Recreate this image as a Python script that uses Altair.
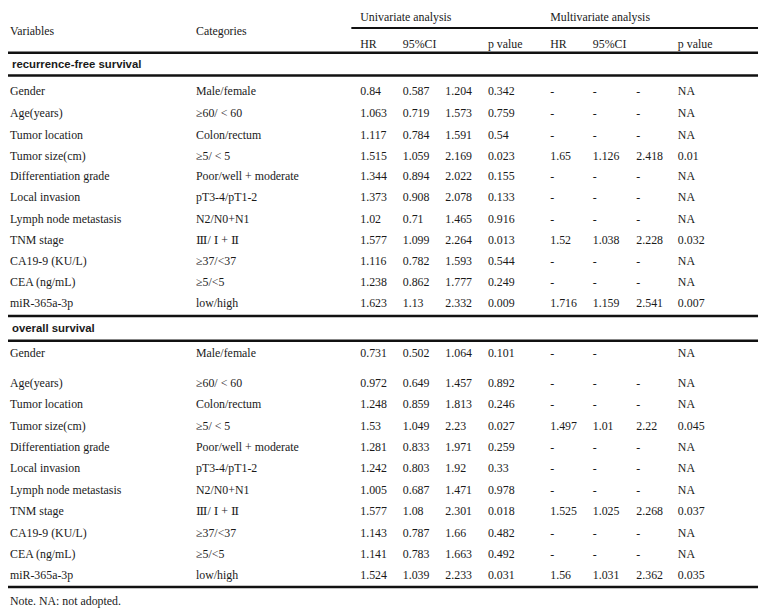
import altair as alt
import pandas as pd

# ---------------- data ----------------
variables = ["Gender", "Age(years)", "Tumor location", "Tumor size(cm)",
             "Differentiation grade", "Local invasion", "Lymph node metastasis",
             "TNM stage", "CA19-9 (KU/L)", "CEA (ng/mL)", "miR-365a-3p"]
categories = ["Male/female", "≥60/ < 60", "Colon/rectum", "≥5/ < 5",
              "Poor/well + moderate", "pT3-4/pT1-2", "N2/N0+N1",
              "Ⅲ/ Ⅰ + Ⅱ", "≥37/<37", "≥5/<5", "low/high"]

header_group = ["Univariate analysis", "Multivariate analysis"]
header_sub = ["HR", "95%CI", "p value", "HR", "95%CI", "p value"]
header_left = ["Variables", "Categories"]
section_titles = ["recurrence-free survival", "overall survival"]
note_text = "Note. NA: not adopted."

# recurrence-free survival
rfs_uni_hr = ["0.84", "1.063", "1.117", "1.515", "1.344", "1.373", "1.02", "1.577", "1.116", "1.238", "1.623"]
rfs_uni_lo = ["0.587", "0.719", "0.784", "1.059", "0.894", "0.908", "0.71", "1.099", "0.782", "0.862", "1.13"]
rfs_uni_hi = ["1.204", "1.573", "1.591", "2.169", "2.022", "2.078", "1.465", "2.264", "1.593", "1.777", "2.332"]
rfs_uni_p = ["0.342", "0.759", "0.54", "0.023", "0.155", "0.133", "0.916", "0.013", "0.544", "0.249", "0.009"]
rfs_mul_hr = ["-", "-", "-", "1.65", "-", "-", "-", "1.52", "-", "-", "1.716"]
rfs_mul_lo = ["-", "-", "-", "1.126", "-", "-", "-", "1.038", "-", "-", "1.159"]
rfs_mul_hi = ["-", "-", "-", "2.418", "-", "-", "-", "2.228", "-", "-", "2.541"]
rfs_mul_p = ["NA", "NA", "NA", "0.01", "NA", "NA", "NA", "0.032", "NA", "NA", "0.007"]

# overall survival
os_uni_hr = ["0.731", "0.972", "1.248", "1.53", "1.281", "1.242", "1.005", "1.577", "1.143", "1.141", "1.524"]
os_uni_lo = ["0.502", "0.649", "0.859", "1.049", "0.833", "0.803", "0.687", "1.08", "0.787", "0.783", "1.039"]
os_uni_hi = ["1.064", "1.457", "1.813", "2.23", "1.971", "1.92", "1.471", "2.301", "1.66", "1.663", "2.233"]
os_uni_p = ["0.101", "0.892", "0.246", "0.027", "0.259", "0.33", "0.978", "0.018", "0.482", "0.492", "0.031"]
os_mul_hr = ["-", "-", "-", "1.497", "-", "-", "-", "1.525", "-", "-", "1.56"]
os_mul_lo = ["-", "-", "-", "1.01", "-", "-", "-", "1.025", "-", "-", "1.031"]
os_mul_hi = ["", "-", "-", "2.22", "-", "-", "-", "2.268", "-", "-", "2.362"]
os_mul_p = ["NA", "NA", "NA", "0.045", "NA", "NA", "NA", "0.037", "NA", "NA", "0.035"]

# ---------------- layout (page pixel positions) ----------------
OFF = 8
col_px = [10, 198, 364, 407, 450, 493, 556, 599, 643, 685]
row_px = ([14, 28, 41, 62] +
          [89, 111, 133, 154, 175, 196, 218, 239, 261, 282, 303] +
          [329] +
          [353, 384, 405, 427, 449, 470, 492, 513, 535, 557, 578] +
          [604])
W, H = 760, 604

# ---------------- build long tables ----------------
cells = []
def add(row, col, text):
    if text != "":
        cells.append({"row": row, "col": col, "text": text})

add(0, 2, header_group[0]); add(0, 6, header_group[1])
add(1, 0, header_left[0]); add(1, 1, header_left[1])
for c, t in zip([2, 3, 5, 6, 7, 9], header_sub):
    add(2, c, t)

def add_block(start, cols):
    for i in range(len(variables)):
        add(start + i, 0, variables[i])
        add(start + i, 1, categories[i])
        for c, arr in zip(range(2, 10), cols):
            add(start + i, c, arr[i])

add_block(4, [rfs_uni_hr, rfs_uni_lo, rfs_uni_hi, rfs_uni_p,
              rfs_mul_hr, rfs_mul_lo, rfs_mul_hi, rfs_mul_p])
add_block(16, [os_uni_hr, os_uni_lo, os_uni_hi, os_uni_p,
               os_mul_hr, os_mul_lo, os_mul_hi, os_mul_p])
add(27, 0, note_text)

df = pd.DataFrame(cells)
titles = pd.DataFrame({"row": [3, 15], "col": [0, 0], "text": section_titles})

xs = alt.Scale(domain=list(range(10)), range=[p - OFF for p in col_px])
ys = alt.Scale(domain=list(range(len(row_px))), range=[p - OFF for p in row_px])

enc = dict(
    x=alt.X("col:Q", scale=xs, axis=None),
    y=alt.Y("row:Q", scale=ys, axis=None),
    text="text:N",
)

body = alt.Chart(df).mark_text(
    align="left", baseline="middle", font="Liberation Serif, DejaVu Serif, serif",
    fontSize=12, color="#1a1a1a"
).encode(**enc)

heads = alt.Chart(titles).mark_text(
    align="left", baseline="middle", font="Liberation Sans, Arial, sans-serif",
    fontSize=11.5, fontWeight="bold", color="#1a1a1a", dx=2
).encode(**enc)

def hrule(y, x1, x2, w=2):
    return alt.Chart(pd.DataFrame({"k": [0]})).mark_rule(
        color="#111111", strokeWidth=w
    ).encode(x=alt.value(x1 - OFF), x2=alt.value(x2 - OFF), y=alt.value(y - OFF))

rules = [hrule(2, 0, 766, 2.5), hrule(25, 355, 766), hrule(50, 0, 766, 2.5),
         hrule(73, 0, 766, 2.5), hrule(316, 0, 766, 2.5), hrule(341, 0, 766, 2.5),
         hrule(590, 0, 766, 2.5)]

chart = alt.layer(*rules, body, heads).properties(
    width=W, height=H, padding=0, autosize=alt.AutoSizeParams(type="none")
).configure_view(stroke=None)

chart.save("out.html", embed_options={"renderer": "svg", "actions": False})
